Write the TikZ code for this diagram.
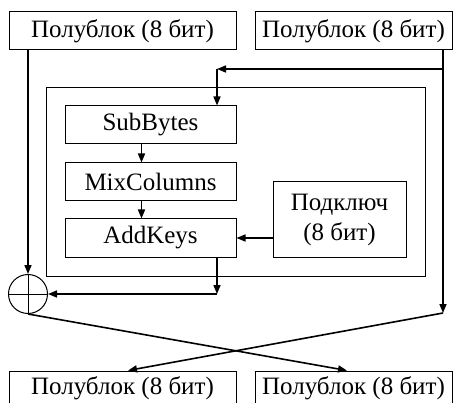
\documentclass[tikz,border=0pt]{standalone}
\usepackage{fontspec}
\setmainfont{Liberation Serif}
\usetikzlibrary{arrows.meta,calc}
\begin{document}
\begin{tikzpicture}[x=1pt,y=-1pt,
  box/.style={draw,line width=1pt,inner sep=0pt,font=\fontsize{25}{30}\selectfont},
  arr/.style={line width=1.6pt,-{Triangle[length=9pt,width=7pt]}},
  ln/.style={line width=1.6pt}]
\useasboundingbox (0,0) rectangle (460,403);
\node[box,minimum width=227pt,minimum height=38pt] (tl) at (122.5,31) {Полублок (8 бит)};
\node[box,minimum width=197pt,minimum height=38pt] (tr) at (353.5,31) {Полублок (8 бит)};
\node[box,minimum width=227pt,minimum height=34pt] (bl) at (122.5,388) {Полублок (8 бит)};
\node[box,minimum width=197pt,minimum height=34pt] (br) at (353.5,388) {Полублок (8 бит)};
\node[draw,line width=1pt,minimum width=379pt,minimum height=188pt,inner sep=0pt] (outer) at (235.5,182) {};
\node[box,minimum width=171pt,minimum height=38pt] (sub) at (150.5,125) {SubBytes};
\node[box,minimum width=171pt,minimum height=38pt] (mix) at (150.5,182) {MixColumns};
\node[box,minimum width=171pt,minimum height=38pt] (add) at (150.5,238) {AddKeys};
\node[box,minimum width=133pt,minimum height=75pt,align=center] (key) at (339.5,219.5) {Подключ\\(8 бит)};
\node[draw,circle,line width=1pt,minimum size=39pt,inner sep=0pt] (xor) at (28,294) {};
\draw[line width=1pt] (xor.north) -- (xor.south) (xor.west) -- (xor.east);
\coordinate (r) at (443,313);
\coordinate (c) at (217,69);
\coordinate (d) at (217,294);
\draw[arr] (xor |- tl.south) -- (xor.north);
\draw[arr] (r |- tr.south) -- (r);
\draw[arr] (r |- c) -- (c);
\draw[arr] (c) -- (c |- sub.north);
\draw[arr] ([xshift=-9pt]sub.south) -- ([xshift=-9pt]mix.north);
\draw[arr] ([xshift=-9pt]mix.south) -- ([xshift=-9pt]add.north);
\draw[arr] (key.west |- add.east) -- (add.east);
\draw[arr] (c |- add.south) -- (d);
\draw[arr] (d) -- (xor.east);
\draw[arr] (xor.south) -- ([xshift=-6.5pt]br.north);
\draw[arr] (r) -- ([xshift=5.5pt]bl.north);
\end{tikzpicture}
\end{document}
